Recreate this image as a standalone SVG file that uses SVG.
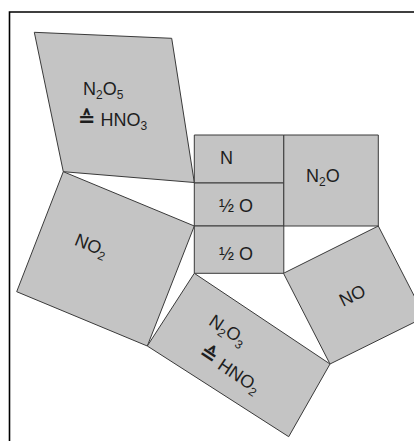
<svg xmlns="http://www.w3.org/2000/svg" width="414" height="441" viewBox="0 0 414 441">
<style>
.sh{fill:#c4c4c4;stroke:#3a3a3a;stroke-width:1;stroke-linejoin:round}
.t{font-family:"Liberation Sans",Arial,sans-serif;font-size:18px;fill:#1e1e1e}
.s{font-size:12px}
.eq{font-family:"DejaVu Sans",sans-serif;font-size:21px;font-weight:bold}
</style>
<rect width="414" height="441" fill="#fff"/>
<path d="M9.5 441 V12 H414" fill="none" stroke="#000" stroke-width="1.6"/>
<g id="N2O5">
<polygon class="sh" points="34.3,32.3 171.7,38.3 194.3,182.5 63.3,171.7"/>
<text class="t" x="83" y="95">N<tspan class="s" dy="4">2</tspan><tspan dy="-4">O</tspan><tspan class="s" dy="4">5</tspan></text>
<text class="t" x="78" y="126"><tspan class="eq">≙</tspan> HNO<tspan class="s" dy="4">3</tspan></text>
</g>
<g id="NO2">
<polygon class="sh" points="63.3,171.7 194.3,226 147.3,346 16.7,291.7"/>
<text class="t" transform="translate(89,251) rotate(22.4)" text-anchor="middle">NO<tspan class="s" dy="4">2</tspan></text>
</g>
<g id="N">
<rect class="sh" x="194.3" y="135" width="89.5" height="48"/>
<text class="t" x="220" y="164">N</text>
</g>
<g id="halfO1">
<rect class="sh" x="194.3" y="183" width="89.5" height="43"/>
<text class="t" x="219" y="212">½ O</text>
</g>
<g id="halfO2">
<rect class="sh" x="194.3" y="226" width="89.5" height="47.3"/>
<text class="t" x="219" y="260">½ O</text>
</g>
<g id="N2O">
<rect class="sh" x="283.8" y="135" width="94.5" height="91"/>
<text class="t" x="306" y="182">N<tspan class="s" dy="4">2</tspan><tspan dy="-4">O</tspan></text>
</g>
<g id="NO">
<polygon class="sh" points="283.5,273.3 378.3,226 425,317 330,364"/>
<text class="t" transform="translate(355,301) rotate(-26.2)" text-anchor="middle">NO</text>
</g>
<g id="N2O3">
<polygon class="sh" points="194.3,273.3 330,364 288.7,436.7 147.3,346"/>
<text class="t" transform="translate(240,355) rotate(33.7)"><tspan x="-44" y="-8">N</tspan><tspan class="s" dy="4">2</tspan><tspan dy="-4">O</tspan><tspan class="s" dy="4">3</tspan><tspan x="-35" y="24" class="eq">≙</tspan><tspan> HNO</tspan><tspan class="s" dy="4">2</tspan></text>
</g>
</svg>
